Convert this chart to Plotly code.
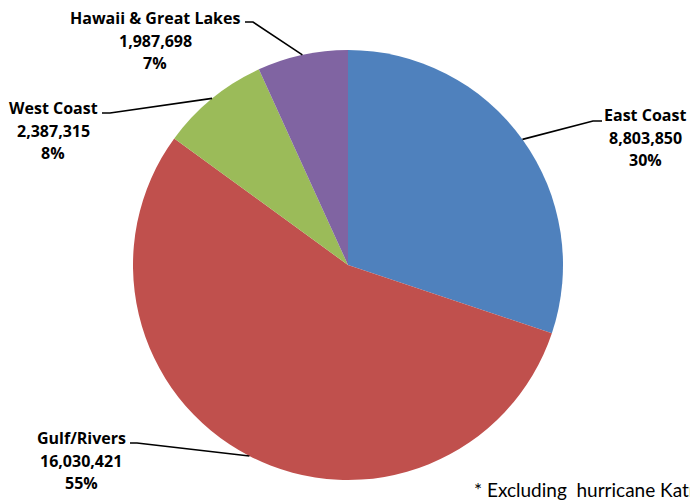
import math
import plotly.graph_objects as go

# ---- data ----
regions = ["East Coast", "Gulf/Rivers", "West Coast", "Hawaii & Great Lakes"]
values = [8803850, 16030421, 2387315, 1987698]
colors = ["#4F81BD", "#C0504D", "#9BBB59", "#8064A2"]
footnote = "* Excluding  hurricane Katrina"

W, H = 690, 502
CX, CY, R = 348, 265, 215  # pie centre / radius in px

# label layout (px): text centre x, first line y, leader-line elbow (x, y), horizontal end x
label_layout = {
    "East Coast": dict(tx=645, ty=115, ex=602, ey=121, hx=593),
    "Gulf/Rivers": dict(tx=81, ty=438, ex=130, ey=443, hx=137),
    "West Coast": dict(tx=53, ty=108, ex=102, ey=113, hx=110),
    "Hawaii & Great Lakes": dict(tx=155, ty=18, ex=245, ey=22, hx=253),
}

def px(x):
    return x / W

def py(y):
    return 1 - y / H

fig = go.Figure(go.Pie(
    labels=regions,
    values=values,
    sort=False,
    direction="clockwise",
    rotation=0,
    textinfo="none",
    hoverinfo="label+value+percent",
    marker=dict(colors=colors, line=dict(width=0)),
    domain=dict(x=[px(CX - R), px(CX + R)], y=[py(CY + R), py(CY - R)]),
    showlegend=False,
))

total = sum(values)
annotations = []
shapes = []
cum = 0
font_b = dict(family="'Open Sans', 'Liberation Sans', sans-serif", size=16, color="#000000")
for name, v in zip(regions, values):
    frac = v / total
    mid = (cum + frac / 2) * 2 * math.pi
    cum += frac
    ex_pt = CX + R * math.sin(mid)
    ey_pt = CY - R * math.cos(mid)
    L = label_layout[name]
    lines = [f"<b>{name}</b>", f"<b>{v:,}</b>", f"<b>{round(frac * 100):d}%</b>"]
    for i, t in enumerate(lines):
        annotations.append(dict(
            x=px(L["tx"]), y=py(L["ty"] + 22.5 * i), xref="paper", yref="paper",
            text=t, showarrow=False, xanchor="center", yanchor="middle",
            font=font_b,
        ))
    shapes.append(dict(
        type="path", xref="paper", yref="paper",
        path=f"M {px(ex_pt)},{py(ey_pt)} L {px(L['hx'])},{py(L['ey'])} L {px(L['ex'])},{py(L['ey'])}",
        line=dict(color="#000000", width=1.6),
    ))

annotations.append(dict(
    x=px(472), y=py(489), xref="paper", yref="paper", text=footnote,
    showarrow=False, xanchor="left", yanchor="middle",
    font=dict(family="Lato, 'Liberation Sans', sans-serif", size=19, color="#000000"),
))

fig.update_layout(
    width=W, height=H,
    margin=dict(l=0, r=0, t=0, b=0),
    paper_bgcolor="white", plot_bgcolor="white",
    annotations=annotations, shapes=shapes,
)

fig.write_html(
    "out.html",
    config={"displayModeBar": False},
    post_script="document.body.style.margin='0';document.body.style.padding='0';",
)
